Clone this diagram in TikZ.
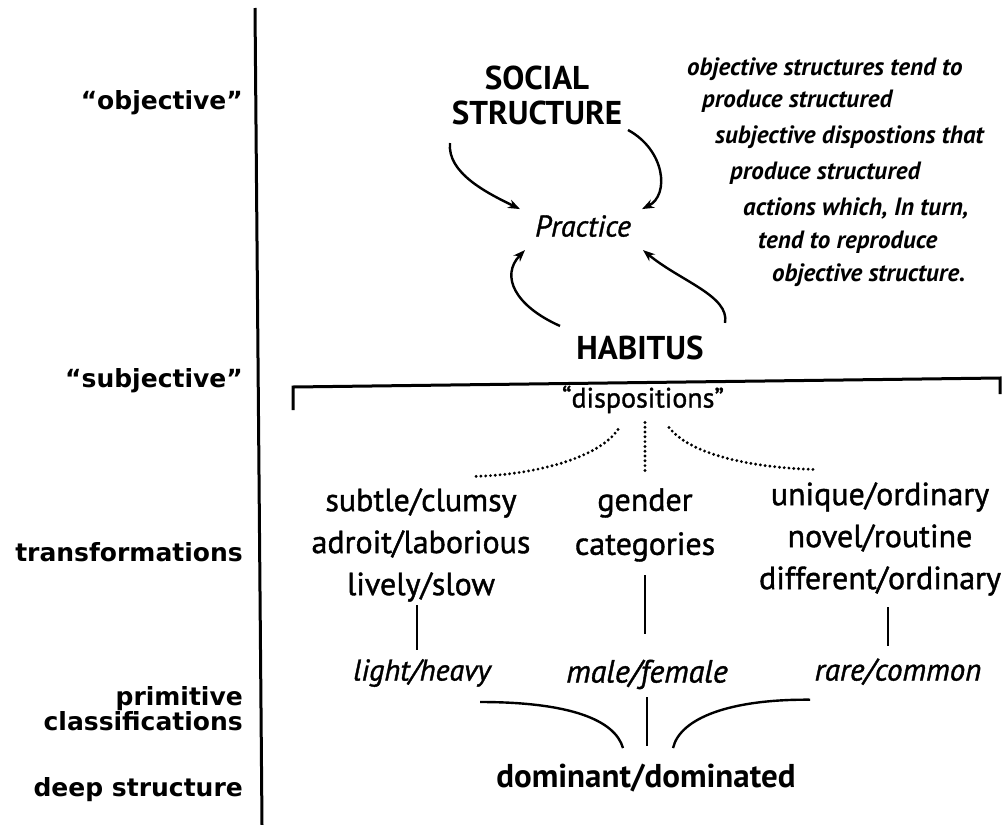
\documentclass[tikz,border=0pt]{standalone}
\usepackage{fontspec}
\setmainfont{PT Sans}[FakeBold=1.2]
\newfontfamily\labfont{DejaVu Sans}
\newfontfamily\plainfont{PT Sans}
\usetikzlibrary{arrows.meta}

\tikzset{
  lvl/.style={font=\labfont\bfseries\fontsize{25}{24}\selectfont, anchor=east, inner sep=0, align=right},
  head/.style={font=\plainfont\bfseries\fontsize{33}{35}\selectfont, inner sep=0, align=center, anchor=center},
  body/.style={font=\fontsize{32}{42}\selectfont, inner sep=0, align=center, anchor=center},
  ital/.style={font=\itshape\fontsize{32}{34}\selectfont, inner sep=0, anchor=mid},
  note/.style={font=\plainfont\bfseries\itshape\fontsize{25}{27}\selectfont, inner sep=0, anchor=mid west},
  arr/.style={line width=2.4pt, -{Stealth[length=12pt,width=9pt]}},
  rule/.style={line width=3pt},
  link/.style={line width=2.4pt},
  dots/.style={line width=3.2pt, dash pattern=on 0pt off 4.8pt, line cap=round},
}

\begin{document}
\begin{tikzpicture}[x=1pt,y=-1pt]
\useasboundingbox (0,0) rectangle (1002,825);
\fill[white] (0,0) rectangle (1002,825);

% level axis
\coordinate (axtop) at (255,8);
\coordinate (axbot) at (262,825);
\draw[rule] (axtop) -- (axbot);

\node[lvl] (l1) at (243,103) {“objective”};
\node[lvl] (l2) at (243,381) {“subjective”};
\node[lvl] (l3) at (243,552) {transformations};
\node[lvl] (l4) at (243,709) {primitive\\classifications};
\node[lvl] (l5) at (243,790) {deep structure};

% structure / practice / habitus cycle
\node[head] (soc) at (537,95) {SOCIAL\\STRUCTURE};
\node[ital, font=\itshape\fontsize{30}{32}\selectfont] (prac) at (583,234) {Practice};
\node[head, anchor=mid] (hab) at (640,357) {HABITUS};

\draw[arr] ([shift={(-87,48)}]soc.center) .. controls ([shift={(-90,78)}]soc.center) and ([shift={(-50,98)}]soc.center) .. ([shift={(-63,-17)}]prac.center);
\draw[arr] ([shift={(91,35)}]soc.center) .. controls ([shift={(128,55)}]soc.center) and ([shift={(133,100)}]soc.center) .. ([shift={(59,-17)}]prac.center);
\draw[arr] ([shift={(-80,-22)}]hab.center) .. controls ([shift={(-125,-42)}]hab.center) and ([shift={(-140,-72)}]hab.center) .. ([shift={(-58,24)}]prac.center);
\draw[arr] ([shift={(85,-25)}]hab.center) .. controls ([shift={(90,-52)}]hab.center) and ([shift={(40,-67)}]hab.center) .. ([shift={(60,24)}]prac.center);

% explanatory note
\node[note] (n1) at (687,73)  {objective structures tend to};
\node[note] (n2) at (702,105) {produce structured};
\node[note] (n3) at (715,141) {subjective dispostions that};
\node[note] (n4) at (730,177) {produce structured};
\node[note] (n5) at (743,213) {actions which, In turn,};
\node[note] (n6) at (758,246) {tend to reproduce};
\node[note] (n7) at (772,279) {objective structure.};

% dispositions bracket
\coordinate (bl) at (293,387);
\coordinate (br) at (1000,378);
\draw[rule] ([shift={(0,23)}]bl) -- (bl) -- (br) -- ([shift={(0,16)}]br);
\node[body, anchor=mid, font=\fontsize{28}{30}\selectfont] (disp) at (643,405) {“dispositions”};

% three columns
\node[body] (c1) at (421,545) {subtle/clumsy\\adroit/laborious\\lively/slow};
\node[body, font=\fontsize{32}{44}\selectfont] (c2) at (645,525) {gender\\categories};
\node[body] (c3) at (880,539) {unique/ordinary\\novel/routine\\different/ordinary};

\draw[dots] ([shift={(-25,30)}]disp.center) .. controls ([shift={(-43,57)}]disp.center) and ([shift={(-103,75)}]disp.center) .. ([shift={(-168,77)}]disp.center);
\draw[dots] ([shift={(2,23)}]disp.center) -- ([shift={(2,75)}]disp.center);
\draw[dots] ([shift={(26,28)}]disp.center) .. controls ([shift={(47,55)}]disp.center) and ([shift={(107,68)}]disp.center) .. ([shift={(170,70)}]disp.center);

% primitive classifications
\node[ital, font=\itshape\fontsize{30}{32}\selectfont] (p1) at (422,678) {light/heavy};
\node[ital] (p2) at (647,680) {male/female};
\node[ital, font=\itshape\fontsize{31}{33}\selectfont] (p3) at (898,678) {rare/common};

\draw[link] ([shift={(-4,60)}]c1.center) -- ([shift={(-5,-23)}]p1.center);
\draw[link] ([shift={(0,50)}]c2.center) -- ([shift={(-2,-40)}]p2.center);
\draw[link] ([shift={(8,68)}]c3.center) -- ([shift={(-10,-26)}]p3.center);

% deep structure
\node[head, anchor=mid] (dom) at (646,785) {dominant/dominated};

\draw[link] ([shift={(58,29)}]p1.center) .. controls ([shift={(148,29)}]p1.center) and ([shift={(193,47)}]p1.center) .. ([shift={(-23,-30)}]dom.center);
\draw[link] ([shift={(0,23)}]p2.center) -- ([shift={(1,-32)}]dom.center);
\draw[link] ([shift={(27,-30)}]dom.center) .. controls ([shift={(34,-60)}]dom.center) and ([shift={(84,-79)}]dom.center) .. ([shift={(-88,28)}]p3.center);
\end{tikzpicture}
\end{document}
